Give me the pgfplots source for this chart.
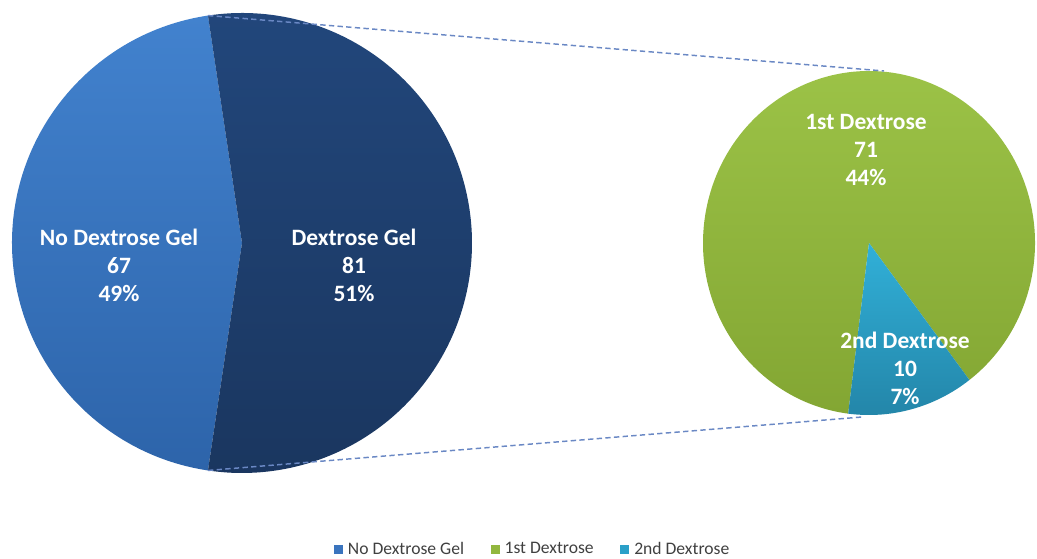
\documentclass[border=0pt]{standalone}
\usepackage{pgfplots}
\pgfplotsset{compat=1.18}
\usepackage{pgfplotstable}
\usetikzlibrary{calc}
\usepackage{fontspec}
\setmainfont{Carlito}

\definecolor{cNoTop}{HTML}{4282CE}
\definecolor{cNoBot}{HTML}{2D64AA}
\definecolor{cNo}{HTML}{3A74BE}
\definecolor{cGelTop}{HTML}{22477C}
\definecolor{cGelBot}{HTML}{1A365F}
\definecolor{cFirstTop}{HTML}{9DC448}
\definecolor{cFirstBot}{HTML}{83A633}
\definecolor{cFirst}{HTML}{92B73E}
\definecolor{cSecTop}{HTML}{31B0D8}
\definecolor{cSecBot}{HTML}{2385A8}
\definecolor{cSec}{HTML}{2BA0C8}
\definecolor{cLine}{HTML}{6A88C4}
\definecolor{cLegText}{HTML}{404040}

\pgfplotstableread{
label value
NoGel 67
Gel 81
}\maintable
\pgfplotstableread{
label value
First 71
Second 10
}\subtable

\begin{document}
\begin{tikzpicture}
\pgfplotstablegetelem{0}{value}\of\maintable \let\vNo\pgfplotsretval
\pgfplotstablegetelem{1}{value}\of\maintable \let\vGel\pgfplotsretval
\pgfplotstablegetelem{0}{value}\of\subtable \let\vA\pgfplotsretval
\pgfplotstablegetelem{1}{value}\of\subtable \let\vB\pgfplotsretval
\pgfmathsetmacro{\half}{180*\vGel/(\vNo+\vGel)}
\pgfmathsetmacro{\halfneg}{-\half}
\pgfmathsetmacro{\halfrest}{360-\half}
\pgfmathsetmacro{\spanB}{360*\vB/(\vA+\vB)}
\pgfmathsetmacro{\bs}{-75-\spanB/2}
\pgfmathsetmacro{\be}{-75+\spanB/2}
\pgfmathsetmacro{\bsrest}{\bs+360}
\begin{axis}[
  x=0.75pt, y=0.75pt,
  xmin=0, xmax=1037, ymin=0, ymax=558,
  hide axis, clip=false, scale only axis,
  legend columns=3,
  legend style={at={(axis cs:533,9)}, anchor=center, draw=none, fill=none,
    font=\fontsize{13.2}{15}\selectfont\color{cLegText},
    /tikz/every odd column/.append style={column sep=2pt},
    /tikz/every even column/.append style={column sep=18pt},
    inner sep=0pt},
  legend cell align=left,
]
\coordinate (ll) at (axis cs:0,0);
\coordinate (ur) at (axis cs:1037,558);
% left pie
\shade[top color=cNoTop, bottom color=cNoBot]
  (axis cs:242,315) -- ++(\half:172.5pt) arc[start angle=\half, end angle=\halfrest, radius=172.5pt] -- cycle;
\shade[top color=cGelTop, bottom color=cGelBot]
  (axis cs:242,315) -- ++(\half:172.5pt) arc[start angle=\half, end angle=\halfneg, radius=172.5pt] -- cycle;
% right pie
\shade[top color=cFirstTop, bottom color=cFirstBot]
  (axis cs:869,315) -- ++({124.5pt*cos(\be)},{129pt*sin(\be)}) arc[start angle=\be, end angle=\bsrest, x radius=124.5pt, y radius=129pt] -- cycle;
\shade[top color=cSecTop, bottom color=cSecBot]
  (axis cs:869,315) -- ++({124.5pt*cos(\bs)},{129pt*sin(\bs)}) arc[start angle=\bs, end angle=\be, x radius=124.5pt, y radius=129pt] -- cycle;
% connectors
\draw[cLine, line width=1.1pt, dash pattern=on 4pt off 2.5pt]
  ($(axis cs:242,315)+(\half:172.5pt)$) -- (axis cs:884,487);
\draw[cLine, line width=1.1pt, dash pattern=on 4pt off 2.5pt]
  ($(axis cs:242,315)+(\halfneg:172.5pt)$) -- (axis cs:862,141);
% labels
\tikzset{lbl/.style={text=white, align=center, font=\fontsize{17.6}{21}\selectfont\bfseries}}
\node[lbl] at (axis cs:119,293) {No Dextrose Gel\\67\\49\%};
\node[lbl] at (axis cs:354,293) {Dextrose Gel\\81\\51\%};
\node[lbl] at (axis cs:866,408) {1st Dextrose\\71\\44\%};
\node[lbl] at (axis cs:905,190) {2nd Dextrose\\10\\7\%};
% legend
\addlegendimage{legend image code/.code={\fill[cNo] (0pt,-3pt) rectangle (6pt,3pt);}}
\addlegendentry{No Dextrose Gel}
\addlegendimage{legend image code/.code={\fill[cFirst] (0pt,-3pt) rectangle (6pt,3pt);}}
\addlegendentry{1st Dextrose}
\addlegendimage{legend image code/.code={\fill[cSec] (0pt,-3pt) rectangle (6pt,3pt);}}
\addlegendentry{2nd Dextrose}
\end{axis}
\pgfresetboundingbox
\path (ll) rectangle (ur);
\end{tikzpicture}
\end{document}
